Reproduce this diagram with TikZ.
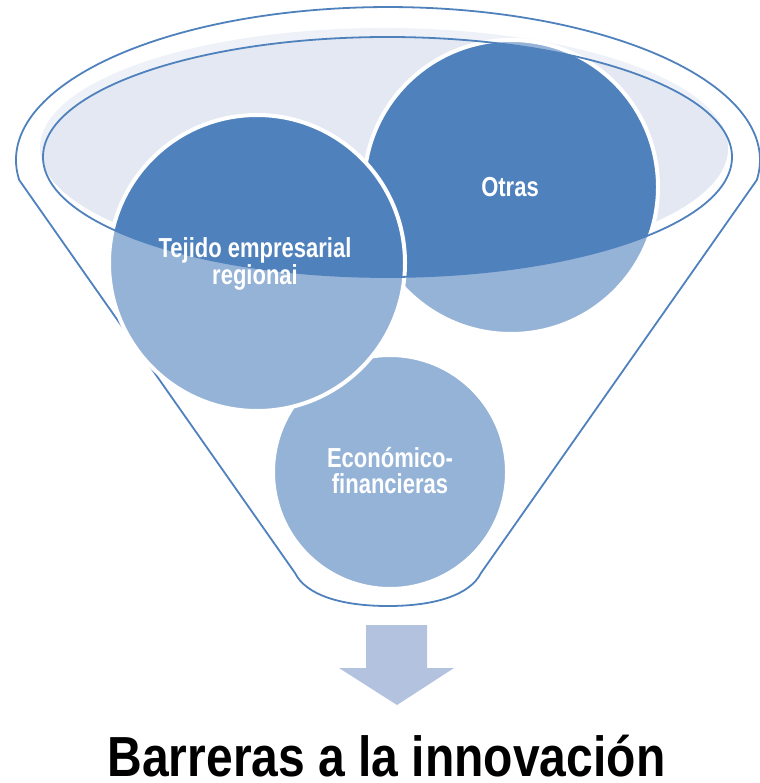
\documentclass[tikz,border=0pt]{standalone}
\usepackage{fontspec}
\newfontfamily\narrowfont[FakeStretch=0.8]{Liberation Sans}
\newfontfamily\titlefont[FakeStretch=0.85]{Liberation Sans}
\definecolor{dk}{HTML}{4F81BD}
\definecolor{lt}{HTML}{95B3D7}
\definecolor{rimA}{HTML}{EEF2F8}
\definecolor{rimB}{HTML}{E3E8F2}
\definecolor{arr}{HTML}{B3C3DF}
\tikzset{
  outline/.style={draw=dk, line width=1.8pt},
  ring/.style={draw=white, line width=4pt},
  bubble/.style={text=white, align=center, inner sep=0pt,
    font=\narrowfont\bfseries\fontsize{27.5}{27}\selectfont},
}
\begin{document}
\begin{tikzpicture}[x=1pt,y=-1pt]
\useasboundingbox (0,0) rectangle (759,783);
% outer funnel
\coordinate (lk) at (19.2,180);
\coordinate (rk) at (756.8,180);
\coordinate (lb) at (295,573);
\coordinate (rb) at (481,573);
\coordinate (bot) at (388,606);
\draw[outline, fill=white, line join=round]
  (lk) arc[start angle=172.5, end angle=367.5, x radius=372, y radius=153]
  -- (rb) .. controls (470,595) and (435,606) .. (bot)
  .. controls (341,606) and (306,595) .. (lb) -- cycle;
% rim fill
\fill[rimA] (384,148) ellipse [x radius=344, y radius=120];
\begin{scope}
  \clip (387.5,157) ellipse [x radius=344.5, y radius=120];
  \fill[rimB] (384,148) ellipse [x radius=344, y radius=120];
\end{scope}
% circles: Otras, Economico, Tejido
\fill[lt] (511,187) circle (147);
\begin{scope}
  \clip (387.5,157) ellipse [x radius=344.5, y radius=120];
  \fill[dk] (511,187) circle (147);
\end{scope}
\draw[ring] (511,187) circle (147);

\fill[lt] (390,472) circle (117);
\begin{scope}
  \clip (387.5,157) ellipse [x radius=344.5, y radius=120];
  \fill[dk] (390,472) circle (117);
\end{scope}
\draw[ring] (390,472) circle (117);

\fill[lt] (257,263) circle (148);
\begin{scope}
  \clip (387.5,157) ellipse [x radius=344.5, y radius=120];
  \fill[dk] (257,263) circle (148);
\end{scope}
\draw[ring] (257,263) circle (148);
% rim outline
\draw[outline] (387.5,157) ellipse [x radius=344.5, y radius=120];
% labels
\node[bubble] (otras) at (510,187) {Otras};
\node[bubble] (tejido) at (255,264) {Tejido empresarial\\regionai};
\node[bubble, font=\narrowfont\bfseries\fontsize{27.5}{26}\selectfont] (eco) at (390,471) {Económico-\\financieras};
% arrow
\fill[arr] (366,625) -- (427,625) -- (427,668) -- (454,668) -- (397,705)
  -- (339,668) -- (366,668) -- cycle;
% title
\node[anchor=base, inner sep=0pt, font=\titlefont\bfseries\fontsize{56.5}{60}\selectfont] (title) at (386.5,776) {Barreras a la innovación};
\end{tikzpicture}
\end{document}
